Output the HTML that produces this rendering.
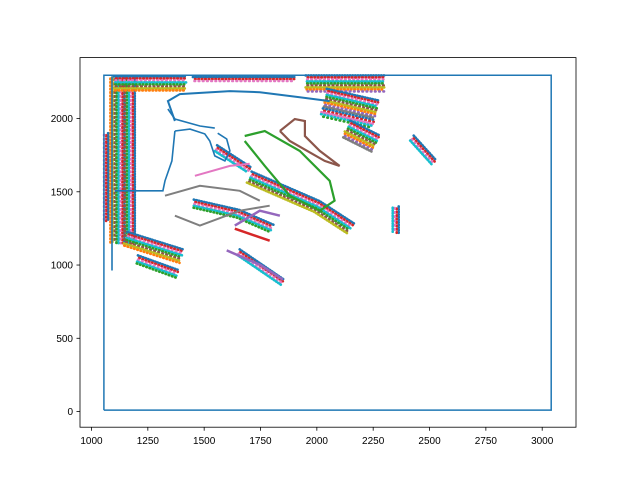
<!DOCTYPE html>
<html><head><meta charset="utf-8"><style>
body{margin:0;background:#fff}
svg text{font-family:"Liberation Sans","DejaVu Sans",sans-serif;font-size:10px;fill:#000}
</style></head><body>
<svg id="chart" width="640" height="480" xmlns="http://www.w3.org/2000/svg">
<rect width="640" height="480" fill="#fff"/>
<g id="plot"></g>
<rect x="80" y="57.6" width="496" height="369.6" fill="none" stroke="#000" stroke-width="0.8"/>
<g id="axes"></g>
</svg>
<script>
const xTicks=[1000,1250,1500,1750,2000,2250,2500,2750,3000];
const yTicks=[0,500,1000,1500,2000];
const boundary=[[1055,10],[1055,2295],[3040,2295],[3040,10],[1055,10]];
const curves=[
 {name:'blue-top',c:'#1f77b4',w:2,p:[[1370,1983],[1339,2119],[1392,2167],[1614,2187],[1747,2180],[1924,2146],[2057,2119]]},
 {name:'blue-top2',c:'#1f77b4',w:1.6,p:[[1339,2065],[1370,1997],[1481,1949],[1547,1935]]},
 {name:'blue-inner',c:'#1f77b4',w:1.6,p:[[1370,1915],[1437,1928],[1503,1895],[1525,1847],[1547,1745],[1592,1711],[1614,1779],[1600,1860],[1560,1900]]},
 {name:'blue-down',c:'#1f77b4',w:1.6,p:[[1370,1915],[1357,1711],[1326,1575],[1317,1507],[1104,1507]]},
 {name:'blue-left',c:'#1f77b4',w:1.6,p:[[1091,2289],[1091,963]]},
 {name:'green-loop',c:'#2ca02c',w:2.2,p:[[1680,1881],[1769,1915],[1924,1779],[2057,1575],[2079,1439],[2013,1371],[1880,1473],[1769,1677],[1680,1847]]},
 {name:'brown-loop',c:'#8c564b',w:2.2,p:[[1836,1915],[1902,1997],[1947,1983],[1947,1881],[2013,1779],[2101,1677],[2035,1711],[1880,1847],[1836,1915]]},
 {name:'gray-1',c:'#7f7f7f',w:2,p:[[1326,1473],[1481,1541],[1658,1507],[1747,1439]]},
 {name:'gray-2',c:'#7f7f7f',w:2,p:[[1370,1337],[1481,1269],[1658,1371],[1791,1405]]},
 {name:'pink-1',c:'#e377c2',w:2,p:[[1459,1609],[1614,1677],[1702,1691]]},
 {name:'red-1',c:'#d62728',w:2.5,p:[[1636,1248],[1791,1166]]},
 {name:'purple-1',c:'#9467bd',w:2.5,p:[[1636,1269],[1747,1371],[1836,1337]]},
 {name:'purple-2',c:'#9467bd',w:2.5,p:[[1600,1100],[1750,1000],[1850,900]]}
];
const bands=[
 {name:'left-strip',w:16,p:[[1115,2280],[1115,1150]]},
 {name:'left-strip2',w:12,p:[[1170,2280],[1170,1150]]},
 {name:'left-edge',w:6,p:[[1065,1900],[1065,1300]]},
 {name:'top-left',w:16,p:[[1100,2240],[1420,2240]]},
 {name:'lower-left',w:16,p:[[1150,1180],[1400,1060]]},
 {name:'lower-left2',w:10,p:[[1200,1040],[1380,940]]},
 {name:'top-right',w:18,p:[[1950,2240],[2300,2240]]},
 {name:'top-right2',w:30,p:[[2030,2110],[2260,2030]]},
 {name:'top-right3',w:20,p:[[2130,1930],[2260,1830]]},
 {name:'mid-cluster',w:14,p:[[1700,1600],[2000,1400],[2150,1250]]},
 {name:'mid-cluster2',w:10,p:[[1450,1420],[1650,1350],[1800,1250]]},
 {name:'mid-cluster3',w:8,p:[[1550,1800],[1700,1650]]},
 {name:'right-small',w:8,p:[[2350,1400],[2350,1220]]},
 {name:'far-right',w:8,p:[[2420,1870],[2520,1700]]},
 {name:'lower-mid',w:8,p:[[1650,1090],[1850,880]]},
 {name:'top-mid',w:6,p:[[1450,2270],[1900,2270]]}
];
const colors=['#1f77b4','#ff7f0e','#2ca02c','#d62728','#9467bd','#8c564b','#e377c2','#7f7f7f','#bcbd22','#17becf'];
const X=v=>80+(v-949)/(3150-949)*496;
const Y=v=>427.2-(v+107)/(2416+107)*369.6;
const NS='http://www.w3.org/2000/svg';
const plot=document.getElementById('plot'),axes=document.getElementById('axes');
function pts(p){return p.map(q=>X(q[0]).toFixed(1)+','+Y(q[1]).toFixed(1)).join(' ');}
bands.forEach(b=>{
 const n=Math.max(2,Math.round(b.w/2));
 const g=document.createElementNS(NS,'g');
 
 
 const px=b.p.map(q=>[X(q[0]),Y(q[1])]);
 for(let k=0;k<n;k++){
  const off=(k-(n-1)/2)*b.w/n;
  const sh=px.map((q,i)=>{const a=px[Math.max(0,i-1)],c=px[Math.min(px.length-1,i+1)];
   let dx=c[0]-a[0],dy=c[1]-a[1];const L=Math.hypot(dx,dy)||1;return [q[0]-dy/L*off,q[1]+dx/L*off];});
  const l=document.createElementNS(NS,'polyline');
  
  
  l.setAttribute('points',sh.map(q=>q[0].toFixed(1)+','+q[1].toFixed(1)).join(' '));
  l.setAttribute('fill','none');l.setAttribute('stroke',colors[(k*3)%10]);
  l.setAttribute('stroke-width','2.6');l.setAttribute('stroke-linecap','round');
  l.setAttribute('stroke-dasharray','0.6 '+(2+(k%3)*0.8));l.setAttribute('stroke-dashoffset',k*1.3);
  g.appendChild(l);}
 plot.appendChild(g);});
curves.forEach(s=>{const l=document.createElementNS(NS,'polyline');
 
 
 l.setAttribute('points',pts(s.p));l.setAttribute('fill','none');l.setAttribute('stroke',s.c);l.setAttribute('stroke-width',s.w);
 plot.appendChild(l);});
const b=document.createElementNS(NS,'polyline');


b.setAttribute('points',pts(boundary));b.setAttribute('fill','none');b.setAttribute('stroke','#1f77b4');b.setAttribute('stroke-width','1.5');
plot.appendChild(b);
xTicks.forEach(t=>{const x=X(t);
 const l=document.createElementNS(NS,'line');
 
 
 l.setAttribute('x1',x);l.setAttribute('x2',x);l.setAttribute('y1',427.2);l.setAttribute('y2',430.7);l.setAttribute('stroke','#000');l.setAttribute('stroke-width','0.8');axes.appendChild(l);
 const tx=document.createElementNS(NS,'text');
 
 
 tx.setAttribute('x',x);tx.setAttribute('y',444);tx.setAttribute('text-anchor','middle');tx.textContent=t;axes.appendChild(tx);});
yTicks.forEach(t=>{const y=Y(t);
 const l=document.createElementNS(NS,'line');
 
 
 l.setAttribute('x1',76.5);l.setAttribute('x2',80);l.setAttribute('y1',y);l.setAttribute('y2',y);l.setAttribute('stroke','#000');l.setAttribute('stroke-width','0.8');axes.appendChild(l);
 const tx=document.createElementNS(NS,'text');
 
 
 tx.setAttribute('x',73);tx.setAttribute('y',y+3.5);tx.setAttribute('text-anchor','end');tx.textContent=t;axes.appendChild(tx);});
</script>
</body></html>
